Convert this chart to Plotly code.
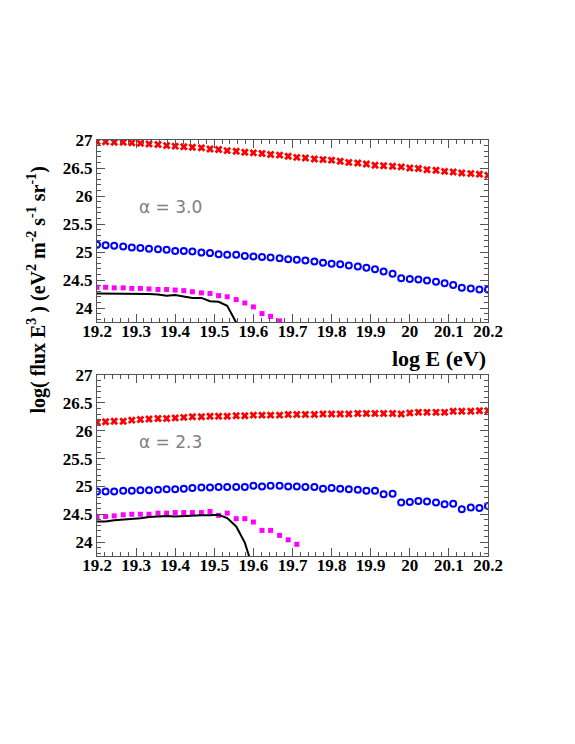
import plotly.graph_objects as go

# log E bin centres (shared by all series)
log_e = [19.2, 19.222, 19.244, 19.267, 19.289, 19.311, 19.333, 19.356, 19.378, 19.4,
         19.422, 19.444, 19.467, 19.489, 19.511, 19.533, 19.556, 19.578, 19.6, 19.622,
         19.644, 19.667, 19.689, 19.711, 19.733, 19.756, 19.778, 19.8, 19.822, 19.844,
         19.867, 19.889, 19.911, 19.933, 19.956, 19.978, 20.0, 20.022, 20.044, 20.067,
         20.089, 20.111, 20.133, 20.156, 20.178, 20.2]

# alpha = 3.0
red_top = [26.97, 26.97, 26.96, 26.96, 26.95, 26.94, 26.93, 26.92, 26.90, 26.89,
           26.88, 26.87, 26.86, 26.84, 26.83, 26.81, 26.80, 26.78, 26.77, 26.76,
           26.74, 26.73, 26.71, 26.69, 26.68, 26.66, 26.65, 26.64, 26.62, 26.60,
           26.59, 26.57, 26.55, 26.54, 26.53, 26.52, 26.50, 26.49, 26.47, 26.46,
           26.44, 26.43, 26.41, 26.40, 26.39, 26.37]
blue_top = [25.13, 25.12, 25.11, 25.10, 25.08, 25.07, 25.06, 25.05, 25.04, 25.02,
            25.02, 25.01, 24.99, 24.98, 24.96, 24.95, 24.95, 24.93, 24.92, 24.91,
            24.90, 24.89, 24.87, 24.86, 24.85, 24.83, 24.81, 24.79, 24.78, 24.76,
            24.74, 24.72, 24.69, 24.65, 24.61, 24.53, 24.52, 24.51, 24.49, 24.47,
            24.44, 24.41, 24.36, 24.35, 24.33, 24.33]
magenta_top = [24.37, 24.37, 24.36, 24.36, 24.35, 24.35, 24.34, 24.33, 24.33, 24.32,
               24.31, 24.29, 24.27, 24.26, 24.22, 24.20, 24.15, 24.09, 24.02, 23.90,
               23.85, 23.77]
black_top = [24.26, 24.26, 24.26, 24.25, 24.25, 24.25, 24.25, 24.24, 24.22, 24.23,
             24.20, 24.18, 24.18, 24.12, 24.11, 24.04, 23.74, 23.40]

# alpha = 2.3
red_bot = [26.15, 26.16, 26.17, 26.17, 26.19, 26.20, 26.21, 26.22, 26.22, 26.23,
           26.24, 26.25, 26.25, 26.26, 26.26, 26.26, 26.27, 26.27, 26.28, 26.28,
           26.28, 26.28, 26.29, 26.29, 26.29, 26.29, 26.30, 26.30, 26.30, 26.30,
           26.31, 26.31, 26.31, 26.31, 26.31, 26.30, 26.32, 26.33, 26.33, 26.33,
           26.33, 26.35, 26.35, 26.35, 26.36, 26.36]
blue_bot = [24.91, 24.91, 24.91, 24.92, 24.92, 24.93, 24.93, 24.94, 24.95, 24.95,
            24.96, 24.97, 24.98, 24.98, 24.99, 24.99, 24.99, 24.99, 25.01, 25.00,
            25.01, 25.01, 25.00, 25.00, 24.99, 24.99, 24.96, 24.97, 24.96, 24.95,
            24.94, 24.92, 24.92, 24.86, 24.87, 24.71, 24.72, 24.74, 24.73, 24.71,
            24.68, 24.69, 24.59, 24.62, 24.61, 24.65]
magenta_bot = [24.45, 24.46, 24.47, 24.49, 24.50, 24.50, 24.50, 24.52, 24.52, 24.53,
               24.53, 24.53, 24.53, 24.55, 24.48, 24.52, 24.42, 24.42, 24.36, 24.21,
               24.21, 24.12, 24.04, 23.96]
black_bot = [24.37, 24.37, 24.39, 24.40, 24.41, 24.43, 24.45, 24.46, 24.47, 24.46,
             24.47, 24.47, 24.48, 24.48, 24.49, 24.43, 24.28, 23.99, 23.50]

panels = [
    ("x", "y", red_top, blue_top, magenta_top, black_top, "α = 3.0"),
    ("x2", "y2", red_bot, blue_bot, magenta_bot, black_bot, "α = 2.3"),
]

fig = go.Figure()
for xa, ya, red, blue, mag, blk, label in panels:
    fig.add_trace(go.Scatter(x=log_e[:len(red)], y=red, mode="markers", xaxis=xa, yaxis=ya,
                             marker=dict(symbol="x", size=7, color="#ff0000", line=dict(width=0))))
    fig.add_trace(go.Scatter(x=log_e[:len(blue)], y=blue, mode="markers", xaxis=xa, yaxis=ya,
                             marker=dict(symbol="circle-open", size=6, color="#0000ff",
                                         line=dict(width=2, color="#0000ff"))))
    fig.add_trace(go.Scatter(x=log_e[:len(mag)], y=mag, mode="markers", xaxis=xa, yaxis=ya,
                             marker=dict(symbol="square", size=5, color="#ff00ff")))
    fig.add_trace(go.Scatter(x=log_e[:len(blk)], y=blk, mode="lines", xaxis=xa, yaxis=ya,
                             line=dict(color="black", width=2)))
    fig.add_annotation(x=19.302, y=25.8, xref=xa, yref=ya, text=label, showarrow=False,
                       xanchor="left", yanchor="middle",
                       font=dict(family="DejaVu Sans", size=17, color="#808080"))

tick_font = dict(family="Liberation Serif", size=17, color="black", weight="bold")
xax = dict(range=[19.2, 20.2], tick0=19.2, dtick=0.1, ticks="inside", ticklen=8,
           tickcolor="#555555", showline=True, linecolor="#555555", linewidth=1,
           mirror="ticks", showgrid=False, zeroline=False, tickfont=tick_font,
           ticklabelstandoff=-6,
           minor=dict(dtick=0.02, ticks="inside", ticklen=4, tickcolor="#555555", showgrid=False))
yax = dict(range=[23.75, 27], tick0=24, dtick=0.5, ticks="inside", ticklen=8,
           tickcolor="#555555", showline=True, linecolor="#555555", linewidth=1,
           mirror="ticks", showgrid=False, zeroline=False, tickfont=tick_font,
           minor=dict(dtick=0.1, ticks="inside", ticklen=4, tickcolor="#555555", showgrid=False))

# page body adds an 8px offset, so margins are trimmed on the left/top
fig.update_layout(
    width=575, height=744,
    margin=dict(l=89, r=95, t=132, b=196),
    paper_bgcolor="white", plot_bgcolor="white",
    showlegend=False,
    xaxis=dict(xax, domain=[0, 1], anchor="y"),
    yaxis=dict(yax, domain=[0.5625, 1], anchor="x"),
    xaxis2=dict(xax, domain=[0, 1], anchor="y2"),
    yaxis2=dict(yax, domain=[0, 0.435], anchor="x2"),
)

fig.add_annotation(xref="x domain", yref="y domain", x=1, y=-0.2, xanchor="right", yanchor="middle",
                   text="log E (eV)", showarrow=False,
                   font=dict(family="Liberation Serif", size=22, color="black", weight="bold"))
fig.add_annotation(xref="paper", yref="paper", x=-0.155, y=0.639, xanchor="center", yanchor="middle",
                   textangle=-90, showarrow=False,
                   text="log( flux E<sup>3</sup> ) (eV<sup>2</sup> m<sup>-2</sup> s<sup>-1</sup> sr<sup>-1</sup>)",
                   font=dict(family="Liberation Serif", size=20, color="black", weight="bold"))

fig.write_html("out.html")
